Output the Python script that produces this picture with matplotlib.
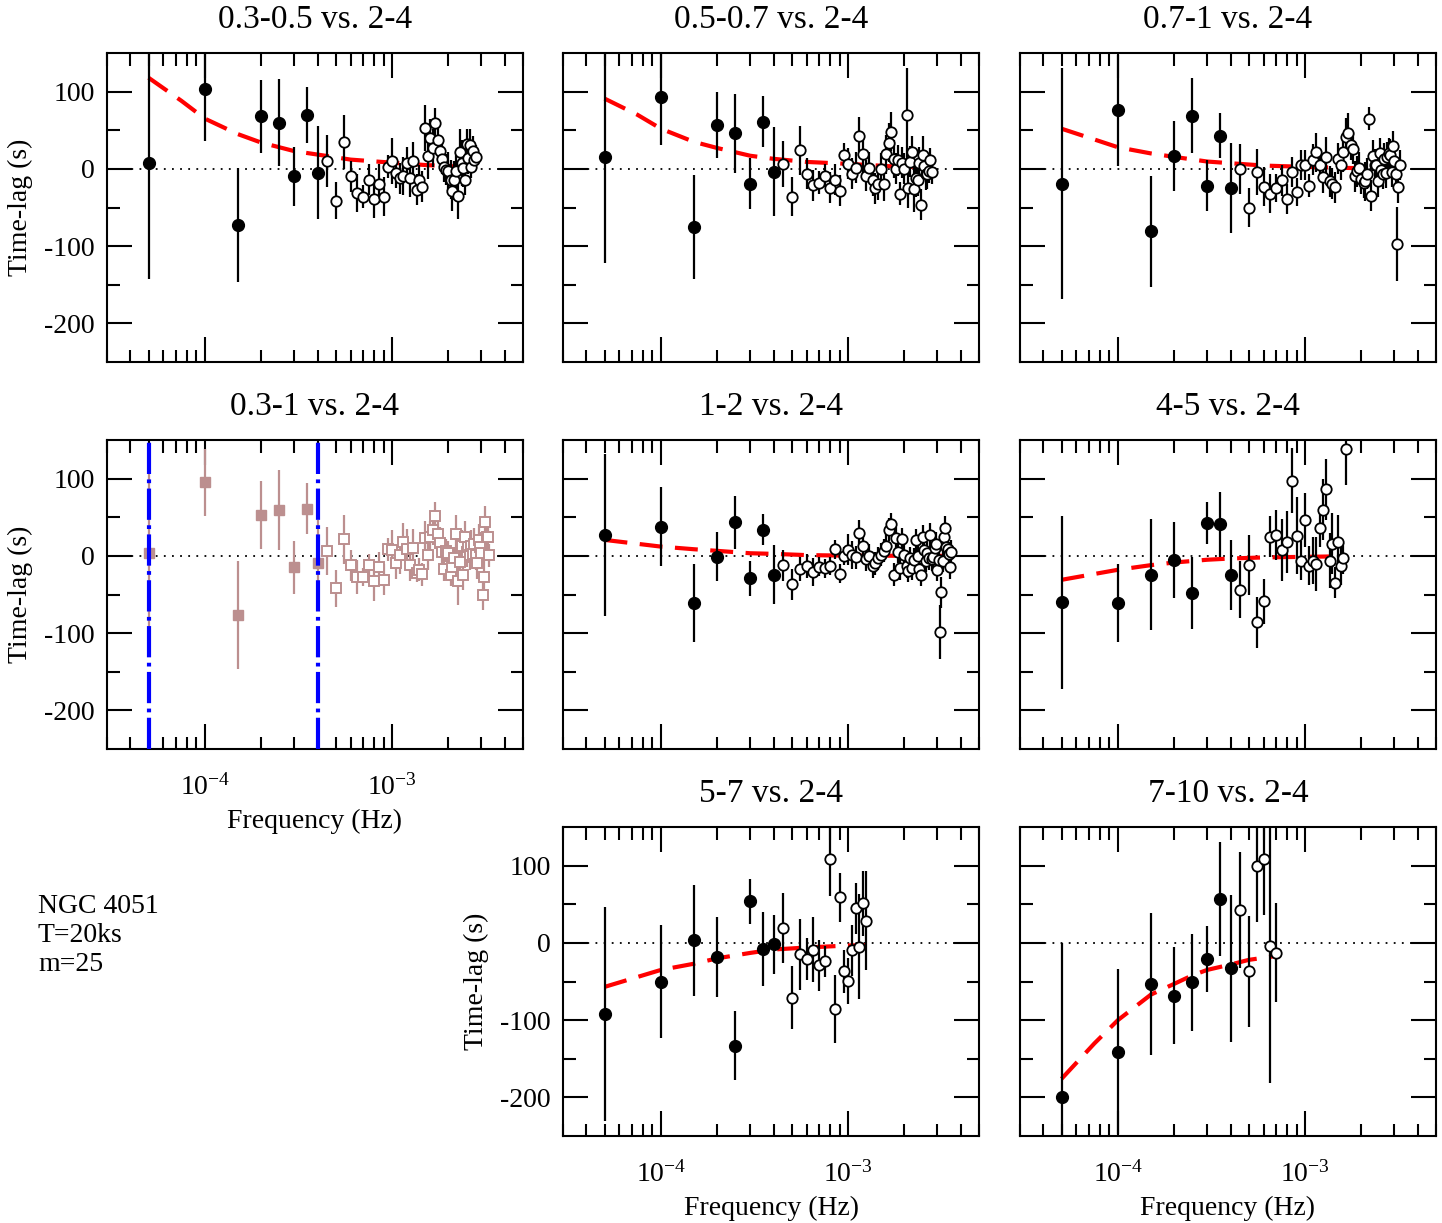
import numpy as np
import matplotlib
matplotlib.use('Agg')
import matplotlib.pyplot as plt
from matplotlib.ticker import LogLocator, FixedLocator, FixedFormatter, NullFormatter

plt.rcParams['font.family'] = ['Liberation Serif', 'DejaVu Serif']
plt.rcParams['mathtext.fontset'] = 'custom'
plt.rcParams['mathtext.rm'] = 'Liberation Serif'
plt.rcParams['mathtext.it'] = 'Liberation Serif:italic'
plt.rcParams['axes.unicode_minus'] = False

DF = 5e-5  # Fourier frequency step 1/T, T = 20 ks

titles = ["0.3-0.5 vs. 2-4", "0.5-0.7 vs. 2-4", "0.7-1 vs. 2-4", "0.3-1 vs. 2-4",
          "1-2 vs. 2-4", "4-5 vs. 2-4", "5-7 vs. 2-4", "7-10 vs. 2-4"]

# ---- panel 1: 0.3-0.5 vs 2-4 ----
p1_lo_lag = [8, 103, -73, 68, 60, -9.5, 70, -5]
p1_lo_err = [150, 67, 74, 47, 56, 38, 36, 60]
p1_hi_lag = [10, -41, 35, -9.5, -31, -36, -14, -39,
             -19, -36, 3, 10, -5, -12, -9, 8,
             -12, 10, -27, -15, -23, 53, 17, 40,
             27, 59, 37, 23, 13, 3, -1, -3,
             -14, -29, -15, -3, -35, 22, 8, 1,
             -14, 32, 14, 31, 3, 23, 11, 16]
p1_hi_err = [34, 24, 35, 20, 25, 15, 20, 25,
             25, 25, 15, 30, 20, 20, 25, 20,
             25, 25, 20, 20, 20, 30, 30, 25,
             25, 20, 25, 20, 20, 20, 20, 25,
             25, 25, 25, 25, 30, 30, 30, 25,
             20, 20, 20, 20, 15, 20, 15, 15]
p1_mod_n = [1, 1.5, 2, 3, 4, 6, 8, 12, 20, 30, 45]
p1_mod_y = [118, 88, 65, 45, 34, 23, 18.5, 12, 8, 5, 3]

# ---- panel 2: 0.5-0.7 vs 2-4 ----
p2_lo_lag = [15, 93.5, -75, 57, 46, -19, 61, -3.4]
p2_lo_err = [137, 62, 67, 43, 51, 33, 33, 58]
p2_hi_lag = [6.5, -36, 24, -6.5, -21.5, -18, -8.6, -24.5,
             -14, -28, 18.5, 6.5, -6, 1.7, 42, 19,
             -8.6, 1.3, -15, -25, -20, 0.4, -19, 19,
             34, 48, 13, 0, 11, -32, 8, 0,
             70, -25, 9, 22, -26, -12, -15, 8,
             -46.5, 18, 3.5, -7, -6, -3, 12, -4]
p2_hi_err = [30, 25, 32, 20, 20, 15, 15, 20,
             20, 20, 15, 20, 20, 20, 25, 25,
             20, 20, 20, 20, 20, 20, 22, 25,
             25, 25, 25, 20, 20, 15, 20, 20,
             60, 25, 20, 20, 30, 25, 20, 20,
             20, 25, 15, 20, 20, 15, 15, 15]
p2_mod_n = [1, 1.5, 2, 3, 4, 6, 8, 12, 20, 33, 56]
p2_mod_y = [91, 70, 52, 35, 27, 17, 13, 9, 6.5, 3.5, 2]

# ---- panel 3: 0.7-1 vs 2-4 ----
p3_lo_lag = [-19, 76, -81, 17, 69, -22, 43, -25]
p3_lo_err = [149, 72, 72, 45, 48, 33, 29, 58]
p3_hi_lag = [0, -50, -4, -23, -32, -25, -15, -39,
             -4, -30, 5, 5, -22, 12, 21.5, 5,
             -11, 16, -16, -19, -24, 13, 5, 21.5,
             41, 47, 31, 26, -9.5, -3, 1.3, -13,
             -18, -16, -6.5, 65, -35, 17, 5.6, 5.6,
             -16, 20, -1, -6, 13, -5, 15, 20,
             18.5, -4, 29, 10, -6, -97, -24, 5]
p3_hi_err = [32, 25, 30, 25, 25, 18, 20, 20,
             20, 18, 20, 20, 15, 20, 25, 20,
             20, 25, 20, 20, 20, 20, 20, 25,
             25, 25, 20, 20, 20, 20, 20, 20,
             20, 25, 20, 15, 20, 20, 20, 20,
             20, 20, 20, 20, 20, 20, 20, 20,
             20, 20, 20, 20, 20, 48, 20, 20]
p3_mod_n = [1, 1.5, 2, 3, 4, 6, 8, 12, 20, 45, 64]
p3_mod_y = [52, 38, 28, 20, 15.5, 9.5, 7.3, 4.3, 2.6, 0.5, 0.3]

# ---- panel 4: 0.3-1 vs 2-4 ----
p4_lo_lag = [4, 95, -76, 53, 59, -15, 61, -9.5]
p4_lo_err = [131, 43, 70, 44, 52, 34, 33, 56]
p4_hi_lag = [6.5, -42, 21.5, -12, -27.5, -27.5, -12, -33,
             -15, -31, 8.6, 8, -9.5, 1.3, 18, 9.5,
             -12, 10, -22, -18, -24, 23, 1.3, 25,
             34, 52, 28.5, 17, 5.6, -17, 6.5, 4.3,
             -24.5, -15, -3, 28.5, -33, -8, 13, -24.5,
             24.5, 5.6, 11, 1.3, 13, 2.6, 16, 1.3,
             -9.5, 20.7, 11, 3.4, -50, -27, 44, 25,
             24, 1]
p4_hi_err = [31, 24, 32, 20, 22, 12, 15, 25,
             20, 20, 15, 25, 20, 25, 25, 25,
             20, 25, 12, 15, 15, 22, 20, 20,
             20, 18, 20, 20, 15, 15, 15, 15,
             15, 20, 15, 25, 30, 20, 20, 20,
             20, 20, 20, 20, 20, 20, 20, 20,
             20, 20, 20, 20, 20, 25, 20, 25,
             20, 15]
p4_vlines = [5e-5, 4e-4]

# ---- panel 5: 1-2 vs 2-4 ----
p5_lo_lag = [27, 38, -61, -1, 43.5, -29, 34, -24.5]
p5_lo_err = [105, 51, 51, 32, 34, 23, 20, 38]
p5_hi_lag = [-12, -37, -17, -13, -21, -14, -16, -13,
             8.6, -23, 0, 8, 1.3, -2, 29, 13,
             -4, 0.4, -13, -9.5, -3, 1.3, 6.5, 13,
             34, 41, -24.5, 23, 5.6, -16, 21.5, 1.3,
             -13, -19, -3, -16, -5, 20, 0, -17,
             -24.5, 25, 8, -6, 3.4, -3, 27, -4,
             -2, 10, 16, -18, -5, -99, -47, -6.5,
             25, 36, 12, 8.6, 3, -15, 5]
p5_hi_err = [20, 20, 15, 15, 18, 12, 12, 12,
             12, 12, 12, 20, 18, 15, 18, 15,
             15, 15, 15, 15, 15, 15, 15, 15,
             15, 15, 15, 15, 15, 15, 15, 15,
             15, 15, 15, 15, 15, 15, 15, 15,
             15, 15, 15, 15, 15, 15, 15, 15,
             15, 15, 15, 15, 15, 35, 20, 15,
             15, 15, 15, 15, 15, 15, 15]
p5_mod_n = [1, 2, 3, 4, 6, 8, 12, 20, 71]
p5_mod_y = [20.7, 12, 8.6, 6.5, 3.4, 2.6, 1, 0.3, 0]

# ---- panel 6: 4-5 vs 2-4 ----
p6_lo_lag = [-60, -61, -24.5, -5, -48, 43, 41, -24.5]
p6_lo_err = [112, 50, 72, 49, 47, 27, 42, 45]
p6_hi_lag = [-44, -12, -86, -59, 25, 27, 8, 18,
             97, 26, -6, 47, -12.5, -6, -10, 36,
             60, 86, -6, 16, -35, 18.5, -13, -3,
             138]
p6_hi_err = [37, 39, 33, 29, 27, 32, 40, 40,
             42, 50, 25, 35, 25, 30, 35, 25,
             40, 40, 35, 40, 20, 35, 25, 20,
             46]
p6_mod_n = [1, 2, 3, 4, 6, 8, 12, 33]
p6_mod_y = [-31, -18, -12, -8.6, -5, -3.4, -2, -0.5]

# ---- panel 8: 5-7 vs 2-4 ----
p8_lo_lag = [-92, -50, 3.4, -18, -133, 54, -8, -2]
p8_lo_err = [138, 73, 72, 52, 45, 29, 48, 38]
p8_hi_lag = [19, -71, -15, -21, -9, -29, -24, 109,
             -85, 59, -37, -49, -9.5, 45, -5, 51,
             28.5]
p8_hi_err = [45, 41, 46, 27, 42, 33, 20, 48,
             44, 32, 28, 30, 33, 33, 68, 42,
             64]
p8_mod_n = [1, 2, 3, 4, 6, 8, 12, 20, 25]
p8_mod_y = [-57, -35, -27, -20, -13, -8.6, -6, -3.4, -3]

# ---- panel 9: 7-10 vs 2-4 ----
p9_lo_lag = [-200, -141, -53, -68.5, -51, -21, 57, -33]
p9_lo_err = [200, 107, 92, 63, 63, 43, 74, 95]
p9_hi_lag = [43, -37, 99, 109, -4, -13]
p9_hi_err = [75, 72, 72, 73, 177, 64]
p9_mod_n = [1, 1.5, 2, 3, 4, 5, 6, 8, 10, 14]
p9_mod_y = [-176, -130, -100, -67, -53, -42, -35, -28, -22, -17]

info_text = "NGC 4051\nT=20ks\nm=25"

# ---------------------------------------------------------------
W, H = 1442, 1223
fig = plt.figure(figsize=(W / 100, H / 100), dpi=100)
col_left = [107, 563, 1020]
row_top = [53, 440, 827]
aw, ah = 416, 309

panels = [
    (0, 0, titles[0], p1_lo_lag, p1_lo_err, p1_hi_lag, p1_hi_err, p1_mod_n, p1_mod_y, False, True),
    (0, 1, titles[1], p2_lo_lag, p2_lo_err, p2_hi_lag, p2_hi_err, p2_mod_n, p2_mod_y, False, False),
    (0, 2, titles[2], p3_lo_lag, p3_lo_err, p3_hi_lag, p3_hi_err, p3_mod_n, p3_mod_y, False, False),
    (1, 0, titles[3], p4_lo_lag, p4_lo_err, p4_hi_lag, p4_hi_err, None, None, True, True),
    (1, 1, titles[4], p5_lo_lag, p5_lo_err, p5_hi_lag, p5_hi_err, p5_mod_n, p5_mod_y, False, False),
    (1, 2, titles[5], p6_lo_lag, p6_lo_err, p6_hi_lag, p6_hi_err, p6_mod_n, p6_mod_y, False, False),
    (2, 1, titles[6], p8_lo_lag, p8_lo_err, p8_hi_lag, p8_hi_err, p8_mod_n, p8_mod_y, False, True),
    (2, 2, titles[7], p9_lo_lag, p9_lo_err, p9_hi_lag, p9_hi_err, p9_mod_n, p9_mod_y, False, False),
]
xlabel_panels = {(1, 0), (2, 1), (2, 2)}

for (r, c, title, lo_lag, lo_err, hi_lag, hi_err, mod_n, mod_y, special, ylab) in panels:
    left = col_left[c] / W
    bottom = 1 - (row_top[r] + ah) / H
    ax = fig.add_axes([left, bottom, aw / W, ah / H])
    ax.set_xscale('log')

    f_lo = DF * np.arange(1, len(lo_lag) + 1)
    f_hi = DF * np.arange(len(lo_lag) + 1, len(lo_lag) + 1 + len(hi_lag))

    ax.axhline(0, color='black', lw=1.3, dashes=(1.0, 3.5), zorder=1)

    if mod_n is not None:
        ax.plot(DF * np.array(mod_n), mod_y, color='#ff0000', lw=3.0,
                dashes=(5.5, 3.0), zorder=2, solid_capstyle='butt')

    if special:
        col = '#bc8f8f'
        for xv in p4_vlines:
            ax.axvline(xv, color='#0000ff', lw=3.0, dashes=(7.5, 1.3, 0.9, 1.3), zorder=4)
        ax.errorbar(f_lo, lo_lag, yerr=lo_err, fmt='s', ms=7, color=col, mfc=col, mec=col,
                    elinewidth=1.6, capsize=0, zorder=3)
        ax.errorbar(f_hi, hi_lag, yerr=hi_err, fmt='s', ms=6.5, color=col, mfc='white', mec=col,
                    mew=1.4, elinewidth=1.6, capsize=0, zorder=3)
    else:
        ax.errorbar(f_lo, lo_lag, yerr=lo_err, fmt='o', ms=8.5, color='black', mfc='black',
                    mec='black', elinewidth=1.6, capsize=0, zorder=3)
        ax.errorbar(f_hi, hi_lag, yerr=hi_err, fmt='o', ms=7.5, color='black', mfc='white',
                    mec='black', mew=1.3, elinewidth=1.6, capsize=0, zorder=3)

    ax.set_xlim(3e-5, 5e-3)
    ax.set_ylim(-250, 150)
    ax.xaxis.set_major_locator(FixedLocator([1e-4, 1e-3]))
    ax.xaxis.set_minor_locator(LogLocator(base=10, subs=np.arange(2, 10) * 1.0, numticks=30))
    ax.xaxis.set_minor_formatter(NullFormatter())
    ax.yaxis.set_major_locator(FixedLocator([100, 0, -100, -200]))
    ax.yaxis.set_minor_locator(FixedLocator([50, -50, -150]))
    ax.tick_params(which='both', direction='in', top=True, right=True, width=1.5, labelsize=20)
    ax.tick_params(which='major', length=18)
    ax.tick_params(which='minor', length=9)
    ax.tick_params(axis='x', which='major', pad=18)
    ax.tick_params(axis='y', which='major', pad=9)
    for sp in ax.spines.values():
        sp.set_linewidth(1.5)

    if (r, c) in xlabel_panels:
        ax.xaxis.set_major_formatter(FixedFormatter([r'$10^{-4}$', r'$10^{-3}$']))
        ax.set_xlabel('Frequency (Hz)', fontsize=20, labelpad=6)
    else:
        ax.xaxis.set_major_formatter(NullFormatter())

    if ylab:
        ax.yaxis.set_major_formatter(FixedFormatter(['100', '0', '-100', '-200']))
        ax.set_ylabel('Time-lag (s)', fontsize=20, labelpad=8)
    else:
        ax.yaxis.set_major_formatter(NullFormatter())

    ax.set_title(title, fontsize=24, pad=18)

fig.text(38 / W, 1 - 894 / H, info_text, fontsize=20, va='top', ha='left', linespacing=1.2)

fig.savefig('out.png', dpi=100)
